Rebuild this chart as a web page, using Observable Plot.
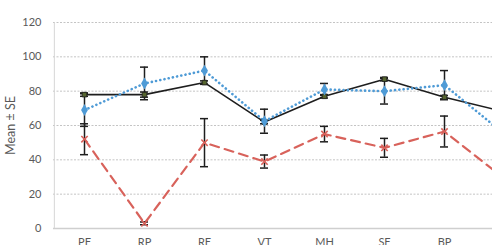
<!DOCTYPE html>
<html>
<head>
<meta charset="utf-8">
<script src="https://cdn.jsdelivr.net/npm/d3@7"></script>
<script src="https://cdn.jsdelivr.net/npm/@observablehq/plot@0.6"></script>
<style>
  html, body { margin: 0; padding: 0; background: #fff; overflow: hidden; }
  #chart { width: 492px; height: 245px; overflow: hidden; }
  #chart svg { max-width: none; }
</style>
</head>
<body>
<div id="chart"></div>
<script>
// SF-36 domain scores (mean ± SE) for three groups
const domains = ["PF", "RP", "RE", "VT", "MH", "SF", "BP", "GH"];

const groupAMean = [78, 78, 85, 62, 77, 87, 76.5, 68];
const groupASE   = [1, 1.5, 1, 1, 1, 1, 1, 1];

const groupBMean = [69, 84.5, 92, 62.5, 81, 80, 83.5, 55];
const groupBSE   = [9.5, 9.5, 8, 7, 3.5, 7.5, 8.5, 8];

const groupCMean = [52, 3, 50, 39, 55, 47, 56.5, 29];
const groupCSE   = [9, 0.8, 14, 3.8, 4.5, 5.5, 9, 8];

const yTicks = [0, 20, 40, 60, 80, 100, 120];

function rows(means, ses) {
  return domains.map((d, i) => ({domain: d, mean: means[i], lo: means[i] - ses[i], hi: means[i] + ses[i]}));
}
const A = rows(groupAMean, groupASE);
const B = rows(groupBMean, groupBSE);
const C = rows(groupCMean, groupCSE);

const blue = "#4f9bd6";
const red = "#d8625b";
const dark = "#1e1e1e";
const step = (560 - 53 - 24.6) / domains.length;
const capInset = 26;

function errorBars(data) {
  return [
    Plot.ruleX(data, {x: "domain", y1: "lo", y2: "hi", stroke: dark, strokeWidth: 1.5}),
    Plot.tickY(data, {x: "domain", y: "lo", stroke: dark, strokeWidth: 1.5, insetLeft: capInset, insetRight: capInset}),
    Plot.tickY(data, {x: "domain", y: "hi", stroke: dark, strokeWidth: 1.5, insetLeft: capInset, insetRight: capInset})
  ];
}

const chart = Plot.plot({
  width: 560,
  height: 262,
  marginLeft: 53,
  marginRight: 24.6,
  marginTop: 22,
  marginBottom: 34,
  style: {fontFamily: "Lato, 'Liberation Sans', sans-serif", fontSize: "11px", color: "#595959", background: "#fff"},
  x: {type: "band", domain: domains, padding: 0, label: null},
  y: {domain: [0, 120], label: null},
  marks: [
    Plot.gridY(yTicks.filter(t => t > 0), {stroke: "#c4c4c4", strokeOpacity: 1, strokeDasharray: "2 1.5"}),
    Plot.ruleY([0], {stroke: "#cfcfcf", strokeWidth: 1.5}),
    // vertical axis line at the left edge of the first band
    Plot.ruleX([domains[0]], {x: d => d, dx: -step / 2, y1: 0, y2: 120, stroke: "#d6d6d6"}),
    Plot.axisY({ticks: yTicks, tickSize: 0, tickPadding: 12, label: null, fill: "#595959"}),
    Plot.axisX({tickSize: 0, tickPadding: 10, label: null, fill: "#595959"}),
    Plot.text(["Mean ± SE"], {frameAnchor: "left", dx: -43, rotate: -90, textAnchor: "middle", fontSize: 12.5, fill: "#595959"}),

    Plot.line(A, {x: "domain", y: "mean", stroke: dark, strokeWidth: 1.6}),
    Plot.line(B, {x: "domain", y: "mean", stroke: blue, strokeWidth: 2.6, strokeDasharray: "0.1 4.2", strokeLinecap: "round"}),
    Plot.line(C, {x: "domain", y: "mean", stroke: red, strokeWidth: 2.2, strokeDasharray: "9 6"}),

    ...errorBars(A),
    ...errorBars(B),
    ...errorBars(C),

    Plot.dot(A, {x: "domain", y: "mean", symbol: "square", r: 2.6, fill: "#56652f", stroke: dark, strokeWidth: 0.8}),
    Plot.dot(B, {x: "domain", y: "mean", symbol: "diamond", r: 3.6, fill: blue}),
    Plot.dot(C, {x: "domain", y: "mean", symbol: "times", r: 3, stroke: red, strokeWidth: 1.6})
  ]
});

document.getElementById("chart").appendChild(chart);
</script>
</body>
</html>
